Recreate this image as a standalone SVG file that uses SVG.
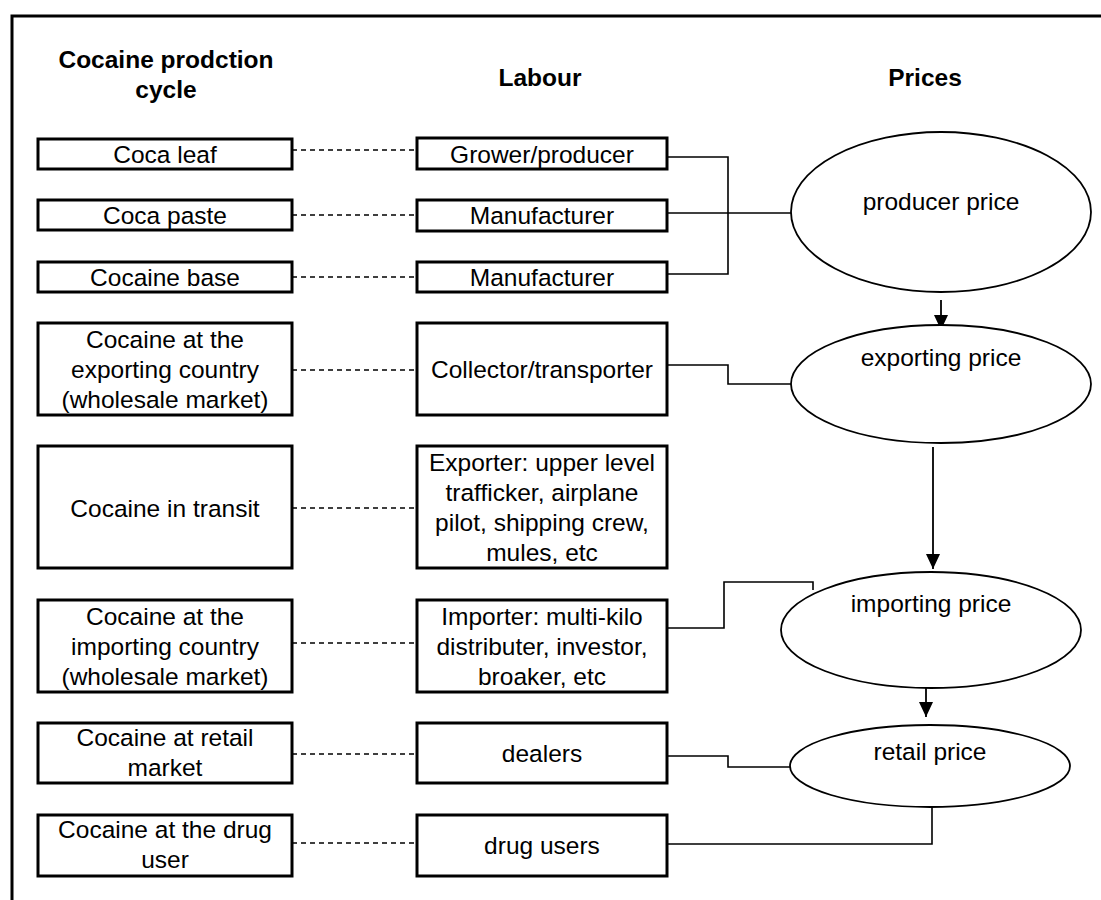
<svg xmlns="http://www.w3.org/2000/svg" width="1101" height="900" viewBox="0 0 1101 900">
<style>
  text { font-family: "Liberation Sans", Arial, sans-serif; font-size: 24.5px; fill: #000; text-anchor: middle; }
  .hdr { font-weight: bold; }
  .box { fill: #fff; stroke: #000; stroke-width: 3; }
  .ell { fill: #fff; stroke: #000; stroke-width: 1.8; }
  .dash { fill: none; stroke: #000; stroke-width: 1.5; stroke-dasharray: 5 4; }
  .line { fill: none; stroke: #000; stroke-width: 1.6; }
  .arrow { fill: none; stroke: #000; stroke-width: 1.8; marker-end: url(#ah); }
</style>
<defs>
  <marker id="ah" markerUnits="userSpaceOnUse" markerWidth="15" markerHeight="14" refX="15" refY="7" orient="auto" viewBox="0 0 15 14">
    <path d="M0,0 L15,7 L0,14 Z" fill="#000"/>
  </marker>
</defs>
<rect width="1101" height="900" fill="#fff"/>
<g id="frame">
  <path d="M12,900 L12,16 L1101,16" fill="none" stroke="#000" stroke-width="3"/>
</g>
<g id="headers">
  <text class="hdr" x="166" y="68">Cocaine prodction</text>
  <text class="hdr" x="166" y="98">cycle</text>
  <text class="hdr" x="540" y="86">Labour</text>
  <text class="hdr" x="925" y="86">Prices</text>
</g>
<g id="connectors">
  <path class="dash" d="M292,150 H417"/>
  <path class="dash" d="M292,215 H417"/>
  <path class="dash" d="M292,277 H417"/>
  <path class="dash" d="M292,370 H417"/>
  <path class="dash" d="M292,508 H417"/>
  <path class="dash" d="M292,643 H417"/>
  <path class="dash" d="M292,754 H417"/>
  <path class="dash" d="M292,843 H417"/>
  <path class="line" d="M667,157 H728 V274 H667"/>
  <path class="line" d="M667,213 H791"/>
  <path class="line" d="M667,365 H728 V384 H791"/>
  <path class="line" d="M667,628 H724 V582 H813 V590"/>
  <path class="line" d="M667,756 H728 V767 H791"/>
  <path class="line" d="M932,807 V844 H667"/>
  <path class="arrow" d="M941,300 V330"/>
  <path class="arrow" d="M933,447 V569"/>
  <path class="arrow" d="M926,688 V717"/>
</g>
<g id="n-coca-leaf"><rect class="box" x="38" y="139" width="254" height="30"/><text x="165" y="163">Coca leaf</text></g>
<g id="n-coca-paste"><rect class="box" x="38" y="200" width="254" height="30"/><text x="165" y="224">Coca paste</text></g>
<g id="n-cocaine-base"><rect class="box" x="38" y="262" width="254" height="30"/><text x="165" y="286">Cocaine base</text></g>
<g id="n-exporting-country"><rect class="box" x="38" y="323" width="254" height="92"/>
  <text x="165" y="348">Cocaine at the</text><text x="165" y="378">exporting country</text><text x="165" y="408">(wholesale market)</text></g>
<g id="n-transit"><rect class="box" x="38" y="446" width="254" height="122"/><text x="165" y="517">Cocaine in transit</text></g>
<g id="n-importing-country"><rect class="box" x="38" y="600" width="254" height="92"/>
  <text x="165" y="625">Cocaine at the</text><text x="165" y="655">importing country</text><text x="165" y="685">(wholesale market)</text></g>
<g id="n-retail-market"><rect class="box" x="38" y="723" width="254" height="60"/>
  <text x="165" y="746">Cocaine at retail</text><text x="165" y="776">market</text></g>
<g id="n-drug-user"><rect class="box" x="38" y="815" width="254" height="61"/>
  <text x="165" y="838">Cocaine at the drug</text><text x="165" y="868">user</text></g>

<g id="n-grower"><rect class="box" x="417" y="138" width="250" height="31"/><text x="542" y="163">Grower/producer</text></g>
<g id="n-manufacturer1"><rect class="box" x="417" y="200" width="250" height="31"/><text x="542" y="224">Manufacturer</text></g>
<g id="n-manufacturer2"><rect class="box" x="417" y="262" width="250" height="30"/><text x="542" y="286">Manufacturer</text></g>
<g id="n-collector"><rect class="box" x="417" y="323" width="250" height="92"/><text x="542" y="378">Collector/transporter</text></g>
<g id="n-exporter"><rect class="box" x="417" y="446" width="250" height="122"/>
  <text x="542" y="471">Exporter: upper level</text><text x="542" y="501">trafficker, airplane</text><text x="542" y="531">pilot, shipping crew,</text><text x="542" y="561">mules, etc</text></g>
<g id="n-importer"><rect class="box" x="417" y="600" width="250" height="92"/>
  <text x="542" y="625">Importer: multi-kilo</text><text x="542" y="655">distributer, investor,</text><text x="542" y="685">broaker, etc</text></g>
<g id="n-dealers"><rect class="box" x="417" y="723" width="250" height="60"/><text x="542" y="762">dealers</text></g>
<g id="n-drug-users"><rect class="box" x="417" y="815" width="250" height="61"/><text x="542" y="854">drug users</text></g>

<g id="n-producer-price"><ellipse class="ell" cx="941" cy="212" rx="150" ry="80"/><text x="941" y="210">producer price</text></g>
<g id="n-exporting-price"><ellipse class="ell" cx="941" cy="384" rx="150" ry="59"/><text x="941" y="366">exporting price</text></g>
<g id="n-importing-price"><ellipse class="ell" cx="931" cy="630" rx="150" ry="58"/><text x="931" y="612">importing price</text></g>
<g id="n-retail-price"><ellipse class="ell" cx="930" cy="766" rx="140" ry="41"/><text x="930" y="760">retail price</text></g>
</svg>
